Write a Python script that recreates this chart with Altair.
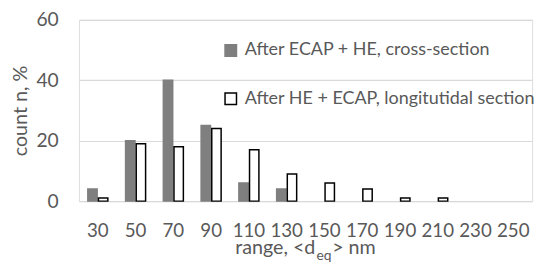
import altair as alt
import pandas as pd

categories = ["30", "50", "70", "90", "110", "130", "150", "170", "190", "210", "230", "250"]
series_names = ["After ECAP + HE, cross-section", "After HE + ECAP, longitutidal section"]
cross_section = [4, 20, 40, 25, 6, 4, 0, 0, 0, 0, 0, 0]
longitudinal = [1, 19, 18, 24, 17, 9, 6, 4, 1, 1, 0, 0]
y_ticks = [0, 20, 40, 60]

rows = []
for c, v in zip(categories, cross_section):
    rows.append({"range": c, "series": series_names[0], "count": v})
for c, v in zip(categories, longitudinal):
    rows.append({"range": c, "series": series_names[1], "count": v})
df = pd.DataFrame(rows)

FONT = "Lato"
GREY_TXT = "#595959"

leg = dict(title=None, orient="none", legendX=145, legendY=22,
           symbolType="square", symbolSize=135, rowPadding=30,
           labelFontSize=18.2, labelColor=GREY_TXT, labelFont=FONT,
           symbolStrokeWidth=1.5, labelOffset=5, labelLimit=400)

bars = alt.Chart(df).transform_filter("datum.count > 0").mark_bar(strokeWidth=1.5).encode(
    x=alt.X("range:N", sort=categories,
            scale=alt.Scale(domain=categories, paddingInner=0.47, paddingOuter=0.235),
            axis=alt.Axis(title=None, labelAngle=0, labelFontSize=19, labelColor=GREY_TXT,
                          labelFont=FONT, domain=False, ticks=False, labelPadding=21)),
    xOffset=alt.XOffset("series:N", sort=series_names,
                        scale=alt.Scale(domain=series_names, paddingInner=0.12)),
    y=alt.Y("count:Q", scale=alt.Scale(domain=[0, 60]),
            axis=alt.Axis(values=y_ticks, title="count n, %", titleFontSize=20,
                          titleFontWeight="normal", titleColor=GREY_TXT, titleFont=FONT,
                          labelFontSize=19.5, labelColor=GREY_TXT, labelFont=FONT,
                          domain=False, ticks=False, labelPadding=21, titlePadding=6,
                          gridColor="#d9d9d9", gridWidth=1.2)),
    fill=alt.Fill("series:N", sort=series_names,
                  scale=alt.Scale(domain=series_names, range=["#7f7f7f", "#ffffff"]),
                  legend=alt.Legend(**leg)),
    stroke=alt.Stroke("series:N", sort=series_names,
                      scale=alt.Scale(domain=series_names, range=["#7f7f7f", "#000000"]),
                      legend=alt.Legend(**leg)),
)

title_main = ["range, <d"]
title_sub = ["eq"]
title_end = ["> nm"]

t1 = alt.Chart(pd.DataFrame({"t": title_main})).mark_text(
    align="right", baseline="alphabetic", fontSize=20, font=FONT, color=GREY_TXT
).encode(text="t:N", x=alt.value(240), y=alt.value(238))
t2 = alt.Chart(pd.DataFrame({"t": title_sub})).mark_text(
    align="left", baseline="alphabetic", fontSize=14, font=FONT, color=GREY_TXT
).encode(text="t:N", x=alt.value(241), y=alt.value(244))
t3 = alt.Chart(pd.DataFrame({"t": title_end})).mark_text(
    align="left", baseline="alphabetic", fontSize=20, font=FONT, color=GREY_TXT
).encode(text="t:N", x=alt.value(257), y=alt.value(238))

chart = alt.layer(bars, t1, t2, t3).properties(
    width=460, height=184,
    autosize=alt.AutoSizeParams(type="none"),
    padding={"left": 72, "top": 10, "right": 10, "bottom": 75},
).configure_view(stroke=None).configure(background="white")

chart.save("out.html", embed_options={"renderer": "svg", "actions": False})
